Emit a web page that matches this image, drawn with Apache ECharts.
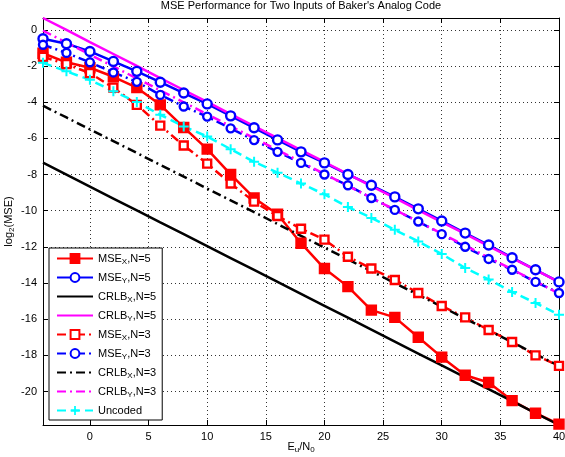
<!DOCTYPE html>
<html>
<head>
<meta charset="utf-8">
<script src="https://cdn.jsdelivr.net/npm/echarts@6/dist/echarts.min.js"></script>
<style>html,body{margin:0;padding:0;background:#fff}#c{width:565px;height:457px}</style>
</head>
<body>
<div id="c"></div>
<script>
var xValues = [-4,-2,0,2,4,6,8,10,12,14,16,18,20,22,24,26,28,30,32,34,36,38,40];
var mseX5  = [-1.3,-1.8,-2.1,-2.6,-3.2,-4.15,-5.4,-6.6,-8.0,-9.3,-10.2,-11.8,-13.2,-14.2,-15.5,-15.9,-17.0,-18.1,-19.1,-19.5,-20.5,-21.2,-21.8];
var mseY5  = [-0.5,-0.77,-1.2,-1.75,-2.3,-2.9,-3.5,-4.1,-4.76,-5.42,-6.09,-6.75,-7.36,-8.0,-8.6,-9.24,-9.9,-10.57,-11.24,-11.9,-12.6,-13.27,-13.94];
var crlbX5 = [-7.35,-8.01,-8.67,-9.33,-9.99,-10.65,-11.30,-11.96,-12.62,-13.28,-13.94,-14.60,-15.26,-15.92,-16.58,-17.24,-17.90,-18.56,-19.22,-19.87,-20.53,-21.19,-21.85];
var crlbY5 = [0.65,-0.01,-0.68,-1.34,-2.0,-2.67,-3.33,-3.99,-4.66,-5.32,-5.99,-6.65,-7.31,-7.98,-8.64,-9.30,-9.97,-10.63,-11.29,-11.96,-12.62,-13.28,-13.95];
var mseX3  = [-1.5,-1.9,-2.4,-3.2,-4.15,-5.3,-6.4,-7.4,-8.5,-9.5,-10.3,-11.0,-11.6,-12.55,-13.2,-13.83,-14.55,-15.27,-15.9,-16.6,-17.26,-18.0,-18.58];
var mseY3  = [-0.83,-1.28,-1.8,-2.36,-2.88,-3.6,-4.24,-4.8,-5.45,-6.1,-6.75,-7.36,-8.0,-8.6,-9.3,-9.96,-10.6,-11.3,-12.0,-12.67,-13.27,-13.94,-14.55];
var crlbX3 = [-4.2,-4.85,-5.51,-6.16,-6.81,-7.47,-8.12,-8.78,-9.43,-10.08,-10.74,-11.39,-12.04,-12.70,-13.35,-14.00,-14.66,-15.31,-15.97,-16.62,-17.27,-17.93,-18.58];
var crlbY3 = [-0.05,-0.71,-1.37,-2.03,-2.69,-3.35,-4.01,-4.67,-5.33,-5.99,-6.65,-7.31,-7.97,-8.63,-9.29,-9.95,-10.61,-11.27,-11.93,-12.59,-13.25,-13.91,-14.58];
var uncoded = [-1.83,-2.3,-2.77,-3.4,-4.0,-4.7,-5.35,-5.9,-6.6,-7.3,-7.9,-8.5,-9.1,-9.8,-10.4,-11.06,-11.7,-12.4,-13.17,-13.8,-14.5,-15.1,-15.76];
var xTicks = [0,5,10,15,20,25,30,35,40];
var yTicks = [-20,-18,-16,-14,-12,-10,-8,-6,-4,-2,0];
var xMin = -4, xMax = 40, yMin = -21.85, yMax = 0.65;
var seriesNames = ['MSE_X,N=5','MSE_Y,N=5','CRLB_X,N=5','CRLB_Y,N=5','MSE_X,N=3','MSE_Y,N=3','CRLB_X,N=3','CRLB_Y,N=3','Uncoded'];

function pairs(arr){ return xValues.map(function(x,i){ return [x, arr[i]]; }); }
var FONT = 'Liberation Sans, Arial, Helvetica, sans-serif';
var DASHDOT = [9,4,2,4];
var DASHED = [9,5];
var PLUS = 'path://M4,0 H6 V4 H10 V6 H6 V10 H4 V6 H0 V4 H4 Z';

function mk(name, data, color, lineType, symbol, fill, size, width){
  return {
    name: name, type: 'line', data: pairs(data),
    xAxisIndex: 0, yAxisIndex: 0,
    symbol: symbol || 'none', symbolSize: size || 9,
    showSymbol: !!symbol,
    lineStyle: {color: color, width: width || 2.5, type: lineType},
    itemStyle: {color: fill || color, borderColor: color, borderWidth: symbol && symbol.indexOf('path')===0 ? 0 : 2.4},
    emphasis: {disabled: true},
    animation: false, z: 3
  };
}

var legendData = seriesNames.map(function(n, i){
  var noMarker = (i === 2 || i === 3 || i === 6 || i === 7);
  return noMarker ? {name: n, itemStyle: {opacity: 0}} : {name: n};
});

var chart = echarts.init(document.getElementById('c'), null, {renderer: 'canvas'});
var subRich = {
  n: {fontSize: 11, fontFamily: FONT, color: '#000'},
  s: {fontSize: 8, fontFamily: FONT, color: '#000', padding: [7,0,0,0]}
};
chart.setOption({
  backgroundColor: '#fff',
  animation: false,
  textStyle: {fontFamily: FONT},
  title: {
    text: "MSE Performance for Two Inputs of Baker's Analog Code",
    left: 301, top: 0, padding: 0, textAlign: 'center',
    textStyle: {fontSize: 11, fontWeight: 'normal', color: '#000', fontFamily: FONT}
  },
  grid: {left: 43, right: 6, top: 18, bottom: 32, containLabel: false, outerBoundsMode: 'none'},
  legend: {
    orient: 'vertical', left: 49, top: 248,
    backgroundColor: '#fff', borderColor: '#000', borderWidth: 1,
    padding: [5, 6, 4, 7], itemGap: 6, itemWidth: 36, itemHeight: 11,
    data: legendData,
    formatter: function(name){
      var m = name.match(/^(\w+)_(\w),(.*)$/);
      if (m) return '{n|' + m[1] + '}{s|' + m[2] + '}{n|,' + m[3] + '}';
      return '{n|' + name + '}';
    },
    textStyle: {rich: subRich, padding: [0,0,0,0]},
    selectedMode: false
  },
  xAxis: [{
    type: 'value', min: xMin, max: xMax, position: 'bottom',
    axisLine: {show: true, onZero: false, lineStyle: {color: '#000', width: 1}},
    axisTick: {show: true, inside: true, length: 5, customValues: xTicks, lineStyle: {color: '#000'}},
    axisLabel: {show: true, customValues: xTicks, color: '#000', fontSize: 11, fontFamily: FONT, margin: 6},
    splitLine: {show: true, lineStyle: {color: '#333', type: [1,3], width: 1}},
    name: '{n|E}{s|u}{n|/N}{s|0}', nameLocation: 'middle', nameGap: 14, nameMoveOverlap: false,
    nameTextStyle: {rich: subRich}
  }, {
    type: 'value', min: xMin, max: xMax, position: 'top',
    axisLine: {show: true, onZero: false, lineStyle: {color: '#000', width: 1}},
    axisTick: {show: true, inside: true, length: 5, customValues: xTicks, lineStyle: {color: '#000'}},
    axisLabel: {show: false}, splitLine: {show: false}
  }],
  yAxis: [{
    type: 'value', min: yMin, max: yMax, position: 'left',
    axisLine: {show: true, onZero: false, lineStyle: {color: '#000', width: 1}},
    axisTick: {show: true, inside: true, length: 5, customValues: yTicks, lineStyle: {color: '#000'}},
    axisLabel: {show: true, customValues: yTicks, color: '#000', fontSize: 11, fontFamily: FONT, margin: 6},
    splitLine: {show: true, lineStyle: {color: '#333', type: [1,3], width: 1}},
    name: '{n|log}{s|2}{n|(MSE)}', nameLocation: 'middle', nameGap: 27, nameRotate: 90, nameMoveOverlap: false,
    nameTextStyle: {rich: subRich}
  }, {
    type: 'value', min: yMin, max: yMax, position: 'right',
    axisLine: {show: true, onZero: false, lineStyle: {color: '#000', width: 1}},
    axisTick: {show: true, inside: true, length: 5, customValues: yTicks, lineStyle: {color: '#000'}},
    axisLabel: {show: false}, splitLine: {show: false}
  }],
  series: [
    mk(seriesNames[0], mseX5, '#ff0000', 'solid', 'rect', '#ff0000', 9, 2.5),
    mk(seriesNames[1], mseY5, '#0000ff', 'solid', 'circle', '#ffffff', 9, 2.5),
    mk(seriesNames[2], crlbX5, '#000000', 'solid', null, null, 0, 2.5),
    mk(seriesNames[3], crlbY5, '#ff00ff', 'solid', null, null, 0, 2.5),
    mk(seriesNames[4], mseX3, '#ff0000', DASHDOT, 'rect', '#ffffff', 8, 2.5),
    mk(seriesNames[5], mseY3, '#0000ff', DASHDOT, 'circle', '#ffffff', 8, 2.5),
    mk(seriesNames[6], crlbX3, '#000000', DASHDOT, null, null, 0, 2.5),
    mk(seriesNames[7], crlbY3, '#ff00ff', DASHDOT, null, null, 0, 2.5),
    mk(seriesNames[8], uncoded, '#00ffff', DASHED, PLUS, '#00ffff', 10, 2.5)
  ]
});
</script>
</body>
</html>
